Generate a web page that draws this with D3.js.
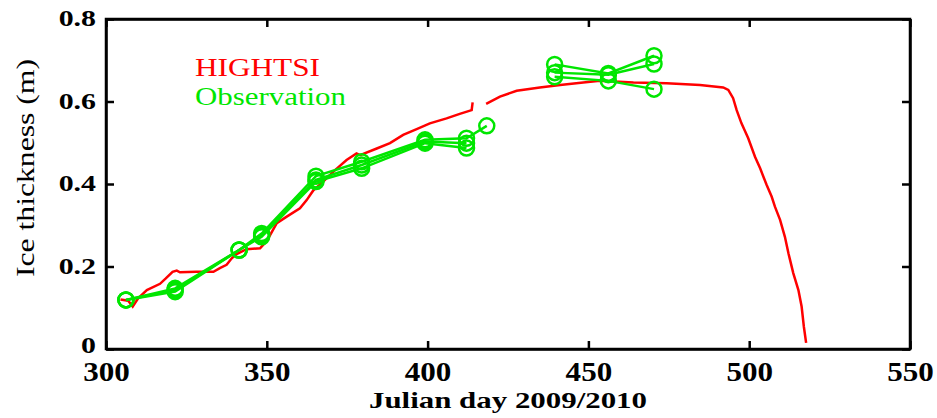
<!DOCTYPE html>
<html>
<head>
<meta charset="utf-8">
<title>Ice thickness, HIGHTSI vs observation</title>
<script src="https://d3js.org/d3.v7.min.js"></script>
<style>
    body { margin: 0; background: white; }
    svg { display: block; }
    svg text { font-family: "Liberation Serif", "Times New Roman", Times, serif; }
    .axis path, .axis line { stroke: black; stroke-width: 2.5px; }
</style>
</head>
<body>
<svg id="chart" width="937" height="418"></svg>
<script>
    // HIGHTSI model run (null = gap in the record)
    const modelDay = [304.5, 306.9, 308.3, 310.0, 312.7, 316.8, 318.6, 320.7, 322.0, 323.0,
        328.0, 333.4, 335.4, 337.5, 339.1, 340.6, 343.7, 347.9, 350.0, 353.1,
        356.2, 360.3, 362.4, 364.5, 366.5, 370.7, 374.8, 377.9, 379.0, 384.2,
        388.3, 392.4, 396.6, 400.7, 405.9, 410.0, 413.7, 414.0, null, 418.2,
        422.5, 427.7, 434.9, 441.2, 448.4, 453.6, 464.0, 474.3, 484.7, 491.9,
        493.5, 495.0, 496.1, 497.6, 499.7, 501.8, 503.4, 505.4, 507.0, 508.0,
        509.6, 511.1, 512.2, 512.7, 513.7, 515.3, 516.3, 517.0, 517.7];
    const modelIce = [0.120, 0.117, 0.103, 0.123, 0.143, 0.158, 0.171, 0.187, 0.190, 0.186,
        0.187, 0.187, 0.196, 0.204, 0.220, 0.230, 0.242, 0.244, 0.262, 0.305,
        0.321, 0.341, 0.361, 0.385, 0.398, 0.430, 0.458, 0.474, 0.470, 0.486,
        0.499, 0.519, 0.533, 0.547, 0.559, 0.570, 0.579, 0.598, null, 0.594,
        0.612, 0.626, 0.634, 0.640, 0.646, 0.650, 0.646, 0.644, 0.640, 0.634,
        0.628, 0.608, 0.579, 0.547, 0.511, 0.466, 0.438, 0.398, 0.369, 0.345,
        0.313, 0.272, 0.232, 0.216, 0.184, 0.143, 0.103, 0.054, 0.015];

    // observations, two measuring periods, three stakes
    const obsDay1 = [306.2, 321.5, 341.4, 348.4, 365.3, 379.5, 399.2, 412.1, 418.4];
    const stakeA1 = [0.119, 0.147, 0.240, 0.280, 0.419, 0.454, 0.507, 0.511, 0.541];
    const stakeB1 = [0.119, 0.143, 0.240, 0.276, 0.410, 0.446, 0.503, 0.499, null];
    const stakeC1 = [0.119, 0.139, 0.240, 0.272, 0.406, 0.438, 0.499, 0.487, null];

    const obsDay2 = [439.5, 456.2, 470.4];
    const stakeA2 = [0.690, 0.668, 0.711];
    const stakeB2 = [0.670, 0.665, 0.691];
    const stakeC2 = [0.660, 0.650, 0.630];

    const xTicks = [300, 350, 400, 450, 500, 550];
    const yTicks = [0, 0.2, 0.4, 0.6, 0.8];

    const margin = { top: 19, right: 27, bottom: 69, left: 106 };
    const width = 937 - margin.left - margin.right;
    const height = 418 - margin.top - margin.bottom;
    const serif = '"Liberation Serif", "Times New Roman", Times, serif';

    const svg = d3.select("#chart");
    const g = svg.append("g")
        .attr("transform", "translate(" + margin.left + "," + margin.top + ")");

    const x = d3.scaleLinear().domain([300, 550]).range([0, width]);
    const y = d3.scaleLinear().domain([0, 0.8]).range([height, 0]);

    // box axes with inward ticks
    const bottom = g.append("g").attr("class", "axis")
        .attr("transform", "translate(0," + height + ")")
        .call(d3.axisBottom(x).tickValues(xTicks).tickSizeInner(-8).tickSizeOuter(0));
    bottom.attr("font-family", serif);
    bottom.selectAll("text")
        .attr("y", 32).attr("dy", 0)
        .attr("transform", "scale(1.15,1)")
        .style("font-size", "27px").style("font-weight", "bold")
        .attr("fill", "black");

    g.append("g").attr("class", "axis")
        .call(d3.axisTop(x).tickValues(xTicks).tickSizeInner(-8).tickSizeOuter(0).tickFormat(""));

    const left = g.append("g").attr("class", "axis")
        .call(d3.axisLeft(y).tickValues(yTicks).tickSizeInner(-8).tickSizeOuter(0).tickFormat(d3.format("")));
    left.attr("font-family", serif);
    left.selectAll("text")
        .attr("x", -10 / 1.3).attr("dy", d => d === 0 ? "0.15em" : "0.3em")
        .attr("transform", "scale(1.3,1)")
        .style("font-size", "23px").style("font-weight", "bold")
        .attr("fill", "black");

    g.append("g").attr("class", "axis")
        .attr("transform", "translate(" + width + ",0)")
        .call(d3.axisRight(y).tickValues(yTicks).tickSizeInner(-8).tickSizeOuter(0).tickFormat(""));

    g.append("rect")
        .attr("width", width).attr("height", height)
        .attr("fill", "none").attr("stroke", "black").attr("stroke-width", 2.5);

    // model line
    const modelData = modelDay.map((d, i) => ({ day: d, ice: modelIce[i] }));
    const line = d3.line()
        .defined(d => d.day !== null && d.ice !== null)
        .x(d => x(d.day)).y(d => y(d.ice));

    g.append("path")
        .datum(modelData)
        .attr("d", line)
        .attr("fill", "none")
        .attr("stroke", "#ff0000")
        .attr("stroke-width", 2.5);

    // observation lines with circle markers
    const green = "#00e600";
    const stakes = [
        [obsDay1, stakeA1], [obsDay1, stakeB1], [obsDay1, stakeC1],
        [obsDay2, stakeA2], [obsDay2, stakeB2], [obsDay2, stakeC2]
    ];
    stakes.forEach(([days, vals]) => {
        const pts = days.map((d, i) => ({ day: d, ice: vals[i] })).filter(p => p.ice !== null);
        g.append("path")
            .datum(pts)
            .attr("d", line)
            .attr("fill", "none")
            .attr("stroke", green)
            .attr("stroke-width", 2.5);
        g.selectAll(null)
            .data(pts)
            .enter()
            .append("circle")
            .attr("cx", d => x(d.day))
            .attr("cy", d => y(d.ice))
            .attr("r", 7.5)
            .attr("fill", "none")
            .attr("stroke", green)
            .attr("stroke-width", 2.5);
    });

    // legend text
    g.append("text")
        .attr("x", 89).attr("y", 57)
        .attr("textLength", 125).attr("lengthAdjust", "spacingAndGlyphs")
        .style("font-size", "26px").attr("fill", "#ff0000")
        .text("HIGHTSI");
    g.append("text")
        .attr("x", 89).attr("y", 86)
        .attr("textLength", 151).attr("lengthAdjust", "spacingAndGlyphs")
        .style("font-size", "26px").attr("fill", green)
        .text("Observation");

    // axis titles
    svg.append("text")
        .attr("x", margin.left + width / 2).attr("y", 408)
        .attr("text-anchor", "middle")
        .attr("textLength", 278).attr("lengthAdjust", "spacingAndGlyphs")
        .style("font-size", "24px").style("font-weight", "bold")
        .text("Julian day 2009/2010");

    svg.append("text")
        .attr("transform", "translate(34,168) rotate(-90)")
        .attr("text-anchor", "middle")
        .attr("textLength", 218).attr("lengthAdjust", "spacingAndGlyphs")
        .style("font-size", "25px")
        .text("Ice thickness (m)");
</script>
</body>
</html>
